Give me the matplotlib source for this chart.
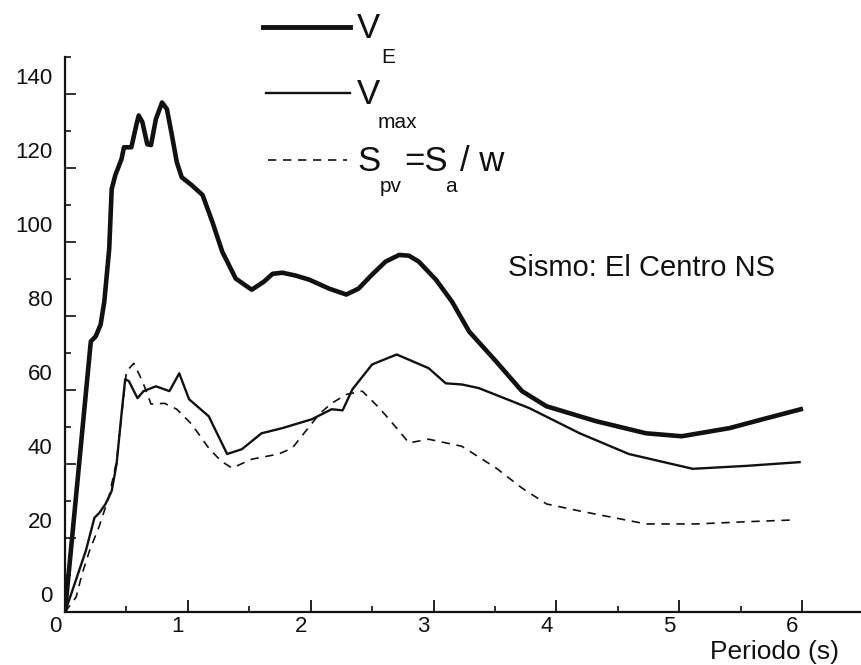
import numpy as np
import matplotlib.pyplot as plt
from matplotlib.lines import Line2D
from matplotlib.transforms import ScaledTranslation

plt.rcParams['font.family'] = ['Liberation Sans', 'DejaVu Sans']

# periodo (s) y valores
t_e = [0.0, 0.21, 0.25, 0.29, 0.32, 0.36, 0.38, 0.41, 0.46, 0.48, 0.54, 0.58,
       0.60, 0.63, 0.67, 0.70, 0.74, 0.79, 0.83, 0.87, 0.91, 0.95, 1.03, 1.12,
       1.20, 1.28, 1.39, 1.52, 1.62, 1.69, 1.77, 1.88, 1.99, 2.15, 2.29, 2.39,
       2.50, 2.61, 2.72, 2.80, 2.88, 3.02, 3.15, 3.29, 3.51, 3.72, 3.92, 4.32,
       4.73, 5.02, 5.41, 5.68, 5.99]
v_e = [-5, 68.1, 69.5, 72.7, 78.9, 93.2, 109.3, 113.1, 117.4, 120.6, 120.6, 126.5,
       129.2, 127.4, 121.4, 121.2, 128.2, 132.7, 130.9, 123.9, 116.6, 112.5, 110.4, 107.7,
       100.4, 92.4, 85.1, 82.1, 84.3, 86.4, 86.7, 85.9, 84.8, 82.4, 80.8, 82.4,
       86.2, 89.7, 91.5, 91.3, 89.7, 84.8, 78.9, 70.8, 62.7, 54.7, 50.6, 46.6,
       43.3, 42.5, 44.7, 47.1, 49.8]

t_max = [0.0, 0.06, 0.17, 0.24, 0.28, 0.33, 0.38, 0.42, 0.46, 0.49, 0.52, 0.59,
         0.64, 0.74, 0.85, 0.93, 1.01, 1.17, 1.32, 1.44, 1.60, 1.77, 2.01, 2.17,
         2.26, 2.34, 2.50, 2.70, 2.96, 3.10, 3.23, 3.37, 3.78, 4.19, 4.59, 5.11,
         5.55, 5.98]
v_max = [-5, 0.8, 11.6, 20.5, 21.8, 24.2, 27.7, 35.0, 48.5, 57.9, 57.4, 52.8,
         54.7, 56.0, 54.7, 59.5, 52.5, 47.9, 37.7, 39.0, 43.3, 44.7, 47.1, 49.8,
         49.5, 55.2, 61.9, 64.6, 60.9, 56.8, 56.5, 55.5, 50.1, 43.3, 37.7, 33.7,
         34.5, 35.5]

t_pv = [0.0, 0.09, 0.14, 0.20, 0.28, 0.36, 0.42, 0.46, 0.50, 0.56, 0.63, 0.70,
        0.81, 0.91, 1.03, 1.17, 1.27, 1.36, 1.52, 1.74, 1.85, 1.96, 2.07, 2.17,
        2.29, 2.42, 2.56, 2.70, 2.80, 2.96, 3.23, 3.51, 3.72, 3.92, 4.19, 4.73,
        5.14, 5.55, 5.95]
s_pv = [-5, -1, 5.4, 11.6, 18.3, 26.4, 35.8, 47.9, 60, 62.2, 57.4, 51.2,
        51.4, 49.8, 45.8, 39.3, 35.8, 33.9, 36.3, 37.7, 39.3, 43.9, 48.5, 51.4,
        53.8, 54.7, 50.1, 44.7, 40.7, 41.7, 39.8, 33.9, 28.5, 24.2, 22.3, 18.8,
        18.8, 19.4, 19.9]

x_ticks = [0, 1, 2, 3, 4, 5, 6]
y_ticks = [0, 20, 40, 60, 80, 100, 120, 140]

W, H = 861, 665
fig = plt.figure(figsize=(W / 100, H / 100), dpi=100)
ax = fig.add_axes([65 / W, 53 / H, 796 / W, 555 / H])

ink = '#111111'
ax.plot(t_e, v_e, color=ink, lw=3.3, solid_joinstyle='round')
ax.plot(t_max, v_max, color=ink, lw=1.7, solid_joinstyle='round')
ax.plot(t_pv, s_pv, color=ink, lw=1.2, dashes=(5, 4))

ax.set_xlim(0, 6.48)
ax.set_ylim(-5, 145)
for s in ['top', 'right']:
    ax.spines[s].set_visible(False)
for s in ['left', 'bottom']:
    ax.spines[s].set_linewidth(1.6)
    ax.spines[s].set_color(ink)

ax.set_xticks(x_ticks)
ax.set_xticklabels([str(v) for v in x_ticks])
ax.set_xticks(np.arange(0.5, 6.5, 1.0), minor=True)
ax.tick_params(axis='x', which='major', direction='in', length=8.5, width=1.3,
               labelsize=16, pad=3, colors=ink)
ax.tick_params(axis='x', which='minor', direction='in', length=4, width=1.2,
               colors=ink)
shift = ScaledTranslation(-10 / 100, 0, fig.dpi_scale_trans)
for lab in ax.get_xticklabels():
    lab.set_transform(lab.get_transform() + shift)

ax.set_yticks(y_ticks)
ax.set_yticklabels([str(v) for v in y_ticks])
ax.set_yticks(np.arange(5, 146, 20), minor=True)
ax.tick_params(axis='y', which='major', length=0, labelsize=16, pad=9,
               colors=ink)
ax.tick_params(axis='y', which='minor', direction='in', length=4, width=1.2,
               colors=ink)
sec = ax.secondary_yaxis('left')
sec.set_yticks(np.arange(15, 146, 20))
sec.set_yticklabels([])
sec.tick_params(axis='y', direction='in', length=8, width=1.2, colors=ink)
sec.spines['left'].set_visible(False)


def fx(px):
    return px / W


def fy(py):
    return 1 - py / H


# leyenda
fig.add_artist(Line2D([fx(263), fx(350)], [fy(27), fy(27)], color=ink, lw=3.5))
fig.add_artist(Line2D([fx(266), fx(350)], [fy(93), fy(93)], color=ink, lw=1.7))
fig.add_artist(Line2D([fx(268), fx(347)], [fy(160), fy(160)], color=ink, lw=1.2,
                      dashes=(5, 4)))

big = 25
small = 15
fig.text(fx(357), fy(38), 'V', fontsize=big, va='baseline', color=ink)
fig.text(fx(381), fy(63), 'E', fontsize=small, va='baseline', color=ink)
fig.text(fx(357), fy(104), 'V', fontsize=big, va='baseline', color=ink)
fig.text(fx(378), fy(128), 'max', fontsize=small, va='baseline', color=ink)
fig.text(fx(357), fy(171), 'S', fontsize=big, va='baseline', color=ink)
fig.text(fx(380), fy(192), 'pv', fontsize=small, va='baseline', color=ink)
fig.text(fx(404), fy(171), '=S', fontsize=big, va='baseline', color=ink)
fig.text(fx(445), fy(192), 'a', fontsize=small, va='baseline', color=ink)
fig.text(fx(460), fy(171), '/ w', fontsize=big, va='baseline', color=ink)

fig.text(fx(508), fy(276), 'Sismo: El Centro NS', fontsize=21, va='baseline',
         color=ink)
fig.text(fx(710), fy(659), 'Periodo (s)', fontsize=19, va='baseline', color=ink)

fig.savefig('out.png', dpi=100)
